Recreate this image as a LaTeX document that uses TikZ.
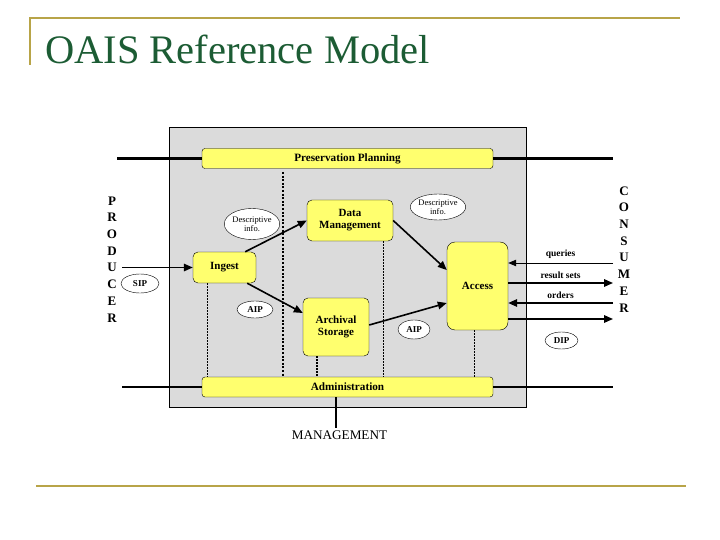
\documentclass[tikz,border=0pt]{standalone}
\usepackage{fontspec}
\setmainfont{Liberation Serif}
\usetikzlibrary{shapes.geometric,arrows.meta}

\definecolor{boxyellow}{RGB}{255,255,110}
\definecolor{titlegreen}{RGB}{28,92,52}
\definecolor{frameline}{RGB}{184,164,72}

\begin{document}
\begin{tikzpicture}[x=1pt,y=-1pt,
    box/.style={draw,fill=boxyellow,rounded corners=5pt,align=center,inner sep=0pt,
        font=\fontsize{11}{12}\selectfont\bfseries},
    bar/.style={draw,fill=boxyellow,rounded corners=3pt,minimum width=291pt,minimum height=20pt,
        inner sep=0pt,font=\fontsize{11.2}{12}\selectfont\bfseries},
    pkg/.style={draw,fill=white,ellipse,inner sep=0pt,align=center,
        font=\fontsize{9}{9}\selectfont\bfseries},
    flow/.style={line width=1.6pt,-{Triangle[length=9pt,width=7.5pt]}},
    thinflow/.style={line width=0.8pt,-{Triangle[length=8pt,width=6.5pt]}},
    link/.style={line width=2.4pt},
    sepline/.style={line width=2pt,dash pattern=on 2pt off 1.6pt},
    guide/.style={line width=0.6pt,dash pattern=on 1.5pt off 1.5pt},
    letter/.style={font=\fontsize{13}{13}\selectfont\bfseries,inner sep=0pt},
    lbl/.style={font=\fontsize{9.5}{10}\selectfont\bfseries,inner sep=0pt}]
    \useasboundingbox (0,0) rectangle (720,540);

    % title frame
    \draw[frameline,line width=2pt] (30,65) -- (30,18) -- (680,18);
    \node[anchor=base west,inner sep=0pt,text=titlegreen,font=\fontsize{40.5}{40}\selectfont] (title) at (45,64) {OAIS Reference Model};
    \draw[frameline,line width=2.5pt] (36,486) -- (686,486);

    \node[draw,fill=black!14,minimum width=357pt,minimum height=280pt] (oais) at (347.5,267) {};

    \node[bar] (plan) at (347.5,158.5) {Preservation Planning};
    \node[bar] (admin) at (347.5,387) {Administration};
    \node[box,minimum width=86pt,minimum height=41pt] (dm) at (350,220.5) {Data\\Management};
    \node[box,minimum width=63pt,minimum height=31pt] (ingest) at (224.5,267.5) {Ingest};
    \node[box,minimum width=66pt,minimum height=58pt] (arch) at (336,327) {Archival\\Storage};
    \node[box,minimum width=61pt,minimum height=88pt,rounded corners=8pt] (access) at (477.5,286) {Access};

    \node[pkg,minimum width=51pt,minimum height=31pt,font=\fontsize{8.5}{8.5}\selectfont] (desc1) at (252,224) {Descriptive\\info.};
    \node[pkg,minimum width=52pt,minimum height=26pt,font=\fontsize{8.5}{8.5}\selectfont] (desc2) at (438,207) {Descriptive\\info.};
    \node[pkg,minimum width=38pt,minimum height=19pt] (sip) at (140,283.5) {SIP};
    \node[pkg,minimum width=36pt,minimum height=17pt] (aip1) at (255,309.5) {AIP};
    \node[pkg,minimum width=32pt,minimum height=19pt] (aip2) at (414,329.5) {AIP};
    \node[pkg,minimum width=33pt,minimum height=17pt] (dip) at (561.5,340.5) {DIP};

    \foreach \l [count=\i] in {P,R,O,D,U,C,E,R}
        \node[letter] (prod\i) at (112,{184.3+16.7*\i}) {\l};
    \foreach \l [count=\i] in {C,O,N,S,U,M,E,R}
        \node[letter] (cons\i) at (624,{174.3+16.7*\i}) {\l};

    \node[font=\fontsize{13.2}{14}\selectfont,inner sep=2pt] (mgmt) at (339.5,435) {MANAGEMENT};

    \coordinate (planL) at (117,158.5);
    \coordinate (planR) at (613,158.5);
    \coordinate (adminL) at (122,387);
    \coordinate (adminR) at (613,387);
    \coordinate (prodIn) at (122,267.5);
    \coordinate (queries) at (613,263);
    \coordinate (results) at (613,283);
    \coordinate (orders) at (613,303);
    \coordinate (dipOut) at (613,319);
    \coordinate (sepTop) at (283,172);

    \draw[link] (planL) -- (plan.west);
    \draw[link] (plan.east) -- (planR);
    \draw[link] (adminL) -- (admin.west);
    \draw[link] (admin.east) -- (adminR);
    \draw[line width=1.6pt] ([xshift=-11.5pt]admin.south) -- ([xshift=-11.5pt]admin.south |- mgmt.north);

    % dotted separators
    \draw[sepline] (sepTop) -- (admin.north -| sepTop);
    \draw[guide] ([xshift=-17.5pt]ingest.south) -- ([xshift=-17.5pt]ingest.south |- admin.north);
    \draw[guide] ([xshift=33pt]dm.south) -- ([xshift=33pt]dm.south |- admin.north);
    \draw[guide,line width=1.2pt] ([xshift=-19pt]arch.south) -- ([xshift=-19pt]arch.south |- admin.north);
    \draw[guide,line width=0.9pt] ([xshift=-3.5pt]access.south) -- ([xshift=-3.5pt]access.south |- admin.north);

    \draw[flow] (prodIn) -- (ingest.west);
    \draw[flow] ([xshift=-11pt]ingest.north east) -- (dm.west);
    \draw[flow] ([xshift=-9pt]ingest.south east) -- ([yshift=14pt]arch.west);
    \draw[flow] (dm.east) -- ([yshift=16pt]access.west);
    \draw[flow] ([yshift=2pt]arch.east) -- ([yshift=-17pt]access.west);

    \draw[thinflow] (queries) -- ([yshift=23pt]access.east) node[lbl,midway,above=4pt] {queries};
    \draw[flow] ([yshift=3pt]access.east) -- (results) node[lbl,midway,above=4pt] {result sets};
    \draw[flow] (orders) -- ([yshift=-17pt]access.east) node[lbl,midway,above=4pt] {orders};
    \draw[flow] ([yshift=-33pt]access.east) -- (dipOut);
\end{tikzpicture}
\end{document}
